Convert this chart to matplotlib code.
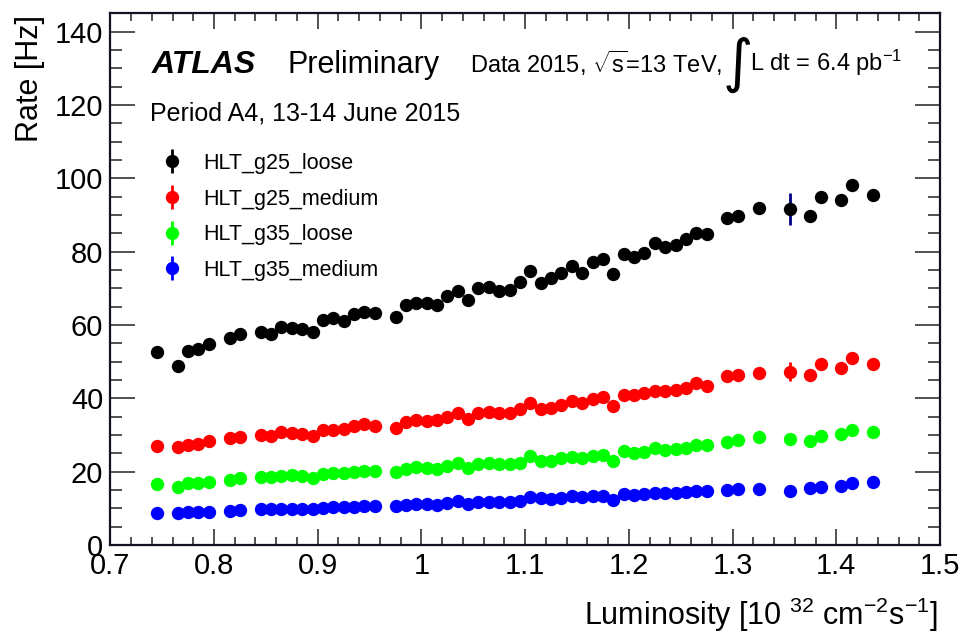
import matplotlib
matplotlib.use("Agg")
import matplotlib.pyplot as plt
from matplotlib.ticker import MultipleLocator, FixedLocator
from matplotlib.lines import Line2D
from matplotlib.legend_handler import HandlerTuple

plt.rcParams["font.family"] = ["Liberation Sans", "DejaVu Sans"]
plt.rcParams["mathtext.fontset"] = "custom"
plt.rcParams["mathtext.rm"] = "Liberation Sans"
plt.rcParams["mathtext.it"] = "Liberation Sans:italic"
plt.rcParams["mathtext.bf"] = "Liberation Sans:bold"

# Instantaneous luminosity bins [1e32 cm^-2 s^-1]
lumi = [0.745, 0.765, 0.775, 0.785, 0.795, 0.815, 0.825,
        0.845, 0.855, 0.865, 0.875, 0.885, 0.895, 0.905, 0.915, 0.925,
        0.935, 0.945, 0.955,
        0.975, 0.985, 0.995, 1.005, 1.015, 1.025, 1.035, 1.045, 1.055,
        1.065, 1.075, 1.085, 1.095, 1.105, 1.115, 1.125, 1.135, 1.145,
        1.155, 1.165, 1.175, 1.185, 1.195, 1.205, 1.215, 1.225, 1.235,
        1.245, 1.255, 1.265, 1.275,
        1.295, 1.305, 1.325, 1.355, 1.375, 1.385, 1.405, 1.415, 1.435]

# Trigger rates [Hz]
rate_g25_loose = [52.6, 48.9, 53.0, 53.5, 54.9, 56.5, 57.5,
                  58.2, 57.6, 59.5, 59.1, 58.8, 58.2, 61.4, 61.8, 61.2,
                  63.0, 63.6, 63.4,
                  62.1, 65.4, 66.1, 66.0, 65.4, 68.0, 69.3, 66.8, 70.0,
                  70.4, 69.3, 69.5, 71.6, 74.8, 71.4, 72.7, 74.3, 76.1,
                  74.3, 77.3, 78.0, 73.9, 79.4, 78.6, 79.7, 82.3, 81.3,
                  81.8, 83.4, 85.0, 84.8,
                  89.2, 89.7, 91.9, 91.6, 89.7, 94.9, 94.1, 98.2, 95.4]
rate_g25_medium = [27.1, 26.7, 27.3, 27.5, 28.3, 29.2, 29.5,
                   29.9, 29.7, 30.7, 30.5, 30.3, 29.8, 31.5, 31.5, 31.7,
                   32.5, 32.9, 32.5,
                   31.8, 33.6, 34.1, 33.9, 34.1, 35.0, 35.9, 34.3, 35.9,
                   36.2, 35.9, 35.9, 37.0, 38.6, 37.1, 37.5, 38.2, 39.4,
                   38.6, 39.7, 40.4, 37.9, 40.9, 40.9, 41.5, 42.1, 42.1,
                   42.3, 42.7, 44.1, 43.4,
                   46.1, 46.5, 46.8, 47.3, 46.5, 49.3, 48.2, 51.1, 49.5]
rate_g35_loose = [16.7, 15.9, 17.0, 17.0, 17.2, 17.7, 18.2,
                  18.5, 18.5, 18.9, 19.0, 18.8, 18.3, 19.3, 19.6, 19.6,
                  19.9, 20.3, 20.3,
                  19.9, 20.6, 21.2, 21.0, 20.7, 21.6, 22.3, 20.9, 22.0,
                  22.3, 22.0, 22.0, 22.4, 24.3, 22.9, 23.0, 23.6, 24.1,
                  23.6, 24.3, 24.5, 23.0, 25.6, 25.0, 25.4, 26.4, 25.9,
                  26.1, 26.4, 27.3, 27.2,
                  28.1, 28.6, 29.5, 28.9, 28.4, 29.8, 30.2, 31.5, 30.9]
rate_g35_medium = [8.8, 8.6, 8.9, 9.1, 9.1, 9.3, 9.5,
                   9.7, 9.7, 9.9, 9.9, 9.8, 9.7, 10.1, 10.3, 10.3,
                   10.4, 10.6, 10.6,
                   10.6, 10.9, 11.2, 11.2, 10.9, 11.5, 12.1, 11.1, 11.8,
                   11.8, 11.8, 11.8, 12.0, 13.2, 12.7, 12.5, 12.9, 13.4,
                   13.0, 13.4, 13.4, 12.3, 13.9, 13.6, 13.8, 14.3, 14.1,
                   14.3, 14.4, 14.8, 14.6,
                   15.0, 15.4, 15.4, 14.8, 15.5, 15.9, 16.2, 17.0, 17.1]

# Statistical uncertainty of the sparsely populated 1.355 bin [Hz]
low_stat_bin = 1.355
low_stat_err = [4.3, 2.6, 1.5, 1.0]

series_labels = ["HLT_g25_loose", "HLT_g25_medium", "HLT_g35_loose", "HLT_g35_medium"]
series_rates = [rate_g25_loose, rate_g25_medium, rate_g35_loose, rate_g35_medium]
series_colors = ["#000000", "#ff0000", "#00ff00", "#0000ff"]
error_colors = ["#000080", "#ff0000", "#00ff00", "#0000ff"]

W, H = 960, 634
fig = plt.figure(figsize=(W / 100, H / 100), dpi=100)
ax = fig.add_axes([110.3 / W, 1 - 545 / H, (940 - 110.3) / W, (545 - 13) / H])

ib = lumi.index(low_stat_bin)
ms = 9.6
for rates, col, ecol, err in zip(series_rates, series_colors, error_colors, low_stat_err):
    ax.errorbar([lumi[ib]], [rates[ib]], yerr=[err], fmt="none",
                ecolor=ecol, elinewidth=2.0, capsize=0, zorder=2)
    ax.plot(lumi, rates, ls="none", marker="o", ms=ms, color=col,
            markeredgewidth=0, zorder=3)

ax.set_xlim(0.7, 1.5)
ax.set_ylim(0, 145.1)
ax.xaxis.set_major_locator(MultipleLocator(0.1))
ax.xaxis.set_minor_locator(MultipleLocator(0.02))
ax.yaxis.set_major_locator(FixedLocator([0, 20, 40, 60, 80, 100, 120, 140]))
ax.yaxis.set_minor_locator(MultipleLocator(5))
ax.xaxis.set_major_formatter(plt.FuncFormatter(lambda v, p: f"{v:g}"))

ax.tick_params(which="both", direction="in", top=True, right=True,
               labelsize=21, width=1.1, color="#222222")
ax.tick_params(axis="x", which="major", length=11.5, pad=5)
ax.tick_params(axis="x", which="minor", length=5.8)
ax.tick_params(axis="y", which="major", length=18, pad=5)
ax.tick_params(axis="y", which="minor", length=8.6)
for sp in ax.spines.values():
    sp.set_linewidth(1.6)
    sp.set_color("#111122")

# axis titles
fig.text(30 / W, 1 - 15 / H, "Rate [Hz]", rotation=90, ha="center", va="top", fontsize=22)
fig.text(938 / W, 1 - 625 / H,
         r"Luminosity [10 $^{32}$ cm$^{-2}$s$^{-1}$]",
         ha="right", va="baseline", fontsize=22)

def ax_xy(px, py):
    return ((px - 110.3) / (940 - 110.3), (545 - py) / (545 - 13))

ax.text(*ax_xy(152, 73), "ATLAS", transform=ax.transAxes, fontsize=23,
        fontweight="bold", fontstyle="italic", va="baseline")
ax.text(*ax_xy(287, 73), "Preliminary", transform=ax.transAxes, fontsize=22,
        va="baseline")
t1 = ax.text(*ax_xy(470, 73), r"Data 2015, $\sqrt{\mathrm{s}}$=13 TeV,",
             transform=ax.transAxes, fontsize=17, va="baseline")
t2 = ax.annotate("\u222b", xy=(1, 0.45), xycoords=t1, xytext=(0, 0),
                 textcoords="offset points", fontsize=42, va="center", ha="left",
                 family=["DejaVu Sans"])
ax.annotate(r"L dt = 6.4 pb$^{-1}$", xy=(1, 0), xycoords=(t2, t1),
            xytext=(-2, 0), textcoords="offset points", fontsize=17,
            va="bottom", ha="left")
ax.text(*ax_xy(150, 120), "Period A4, 13-14 June 2015", transform=ax.transAxes,
        fontsize=18, va="baseline")

handles = []
for col in series_colors:
    bar = Line2D([0], [0], ls="none", marker="|", ms=17, mew=2, color=col)
    dot = Line2D([0], [0], ls="none", marker="o", ms=ms, mew=0, color=col)
    handles.append((bar, dot))
ax.legend(handles, series_labels, handler_map={tuple: HandlerTuple(ndivide=1)},
          loc="upper left", bbox_to_anchor=ax_xy(161.6, 153), frameon=False,
          fontsize=15.5, borderpad=0, borderaxespad=0, handlelength=1.0,
          handletextpad=0.95, labelspacing=0.68)

fig.savefig("out.png", dpi=100)
